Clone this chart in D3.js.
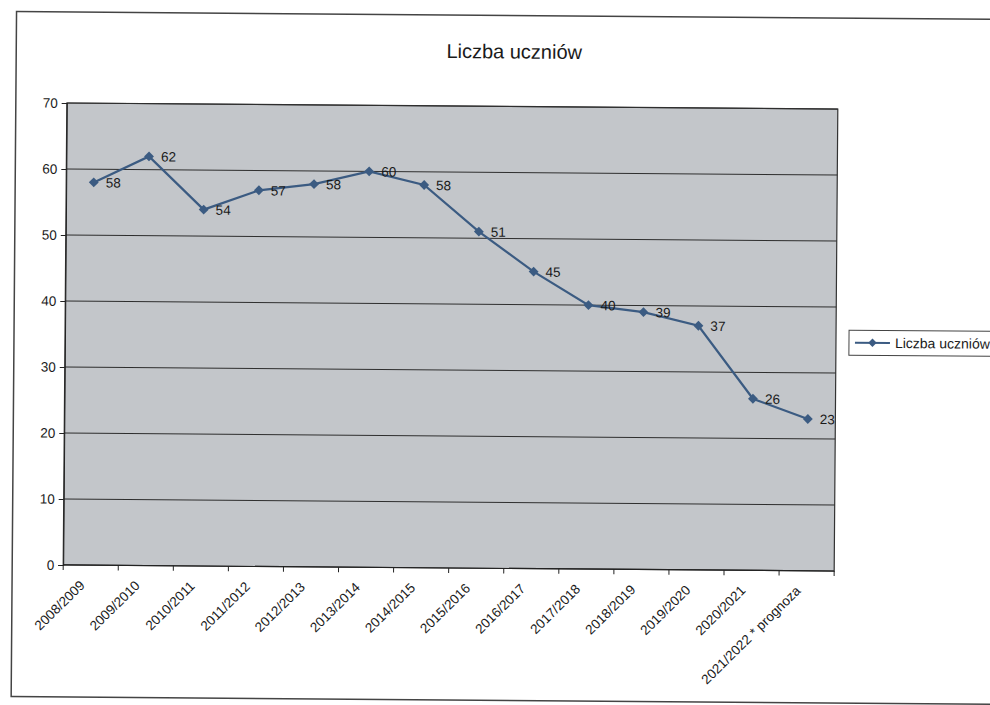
<!DOCTYPE html>
<html>
<head>
<meta charset="utf-8">
<script src="https://cdn.jsdelivr.net/npm/d3@7"></script>
<style>
  body { margin: 0; background: #fff; }
  text { font-family: "Liberation Sans", Arial, sans-serif; fill: #1a1a1a; }
</style>
</head>
<body>
<script>
var w = 990;
var h = 705;

// data
var years = ["2008/2009", "2009/2010", "2010/2011", "2011/2012", "2012/2013", "2013/2014",
             "2014/2015", "2015/2016", "2016/2017", "2017/2018", "2018/2019", "2019/2020",
             "2020/2021", "2021/2022 * prognoza"];
var uczniowie = [58, 62, 54, 57, 58, 60, 58, 51, 45, 40, 39, 37, 26, 23];
var yTicks = [0, 10, 20, 30, 40, 50, 60, 70];
var seriesName = "Liczba uczniów";

var lineColor = "#3b5b82";

var svg = d3.select("body").append("svg")
  .attr("width", w)
  .attr("height", h);

// the scan is tilted a little, so the whole sheet is turned a bit
var g = svg.append("g")
  .attr("transform", "rotate(0.45, 450, 337)");

// outer frame
g.append("rect")
  .attr("x", 14).attr("y", 15)
  .attr("width", 1000).attr("height", 685)
  .attr("fill", "none")
  .attr("stroke", "#444")
  .attr("stroke-width", 1.5);

var pLeft = 65, pRight = 836, pTop = 106, pBottom = 568;

var x = d3.scaleBand()
  .domain(years)
  .range([pLeft, pRight]);

var y = d3.scaleLinear()
  .domain([0, 70])
  .range([pBottom, pTop]);

// plot area
g.append("rect")
  .attr("x", pLeft).attr("y", pTop)
  .attr("width", pRight - pLeft).attr("height", pBottom - pTop)
  .attr("fill", "#c3c6ca")
  .attr("stroke", "#333")
  .attr("stroke-width", 1.2);

// gridlines
g.selectAll("line.grid")
  .data(yTicks.slice(1))
  .enter()
  .append("line")
  .attr("class", "grid")
  .attr("x1", pLeft).attr("x2", pRight)
  .attr("y1", function(d) { return y(d); })
  .attr("y2", function(d) { return y(d); })
  .attr("stroke", "#2e2e2e")
  .attr("stroke-width", 1);

// y axis
var yAxis = g.append("g")
  .attr("transform", "translate(" + pLeft + ",0)")
  .call(d3.axisLeft(y).tickValues(yTicks).tickSize(5).tickPadding(4));
yAxis.select(".domain").attr("stroke", "#222");
yAxis.selectAll("line").attr("stroke", "#222");
yAxis.selectAll("text")
  .attr("font-size", 13.5)
  .attr("fill", "#1a1a1a")
  .attr("font-family", "Liberation Sans, Arial, sans-serif");

// x axis: ticks sit between the categories
var xAxisG = g.append("g")
  .attr("transform", "translate(0," + pBottom + ")");
xAxisG.append("line")
  .attr("x1", pLeft).attr("x2", pRight)
  .attr("stroke", "#222").attr("stroke-width", 1.2);
xAxisG.selectAll("line.tick")
  .data(years.concat(["end"]))
  .enter()
  .append("line")
  .attr("class", "tick")
  .attr("x1", function(d, i) { return pLeft + i * x.step(); })
  .attr("x2", function(d, i) { return pLeft + i * x.step(); })
  .attr("y1", 0).attr("y2", 5)
  .attr("stroke", "#222");
xAxisG.selectAll("text")
  .data(years)
  .enter()
  .append("text")
  .text(function(d) { return d; })
  .attr("text-anchor", "end")
  .attr("font-size", 13.5)
  .attr("transform", function(d) {
    return "translate(" + (x(d) + x.bandwidth() / 2 - 5) + ",21) rotate(-45)";
  });

// line + markers
var line = d3.line()
  .x(function(d, i) { return x(years[i]) + x.bandwidth() / 2; })
  .y(function(d) { return y(d); });

g.append("path")
  .datum(uczniowie)
  .attr("d", line)
  .attr("fill", "none")
  .attr("stroke", lineColor)
  .attr("stroke-width", 2.2);

var diamond = d3.symbol().type(d3.symbolDiamond2).size(62);

g.selectAll("path.pt")
  .data(uczniowie)
  .enter()
  .append("path")
  .attr("class", "pt")
  .attr("d", diamond)
  .attr("transform", function(d, i) {
    return "translate(" + (x(years[i]) + x.bandwidth() / 2) + "," + y(d) + ")";
  })
  .attr("fill", lineColor);

// value labels
g.selectAll("text.val")
  .data(uczniowie)
  .enter()
  .append("text")
  .attr("class", "val")
  .text(function(d) { return d; })
  .attr("x", function(d, i) { return x(years[i]) + x.bandwidth() / 2 + 12; })
  .attr("y", function(d) { return y(d) + 5; })
  .attr("font-size", 13.5);

// title
g.append("text")
  .text(seriesName)
  .attr("x", 512)
  .attr("y", 58)
  .attr("text-anchor", "middle")
  .attr("font-size", 20);

// legend
var lg = g.append("g").attr("transform", "translate(849,327)");
lg.append("rect")
  .attr("width", 160).attr("height", 25)
  .attr("fill", "#fff")
  .attr("stroke", "#444");
lg.append("line")
  .attr("x1", 6).attr("x2", 41)
  .attr("y1", 12.5).attr("y2", 12.5)
  .attr("stroke", lineColor).attr("stroke-width", 2);
lg.append("path")
  .attr("d", d3.symbol().type(d3.symbolDiamond2).size(45))
  .attr("transform", "translate(23.5,12.5)")
  .attr("fill", lineColor);
lg.append("text")
  .text(seriesName)
  .attr("x", 46)
  .attr("y", 17.5)
  .attr("font-size", 14);
</script>
</body>
</html>
